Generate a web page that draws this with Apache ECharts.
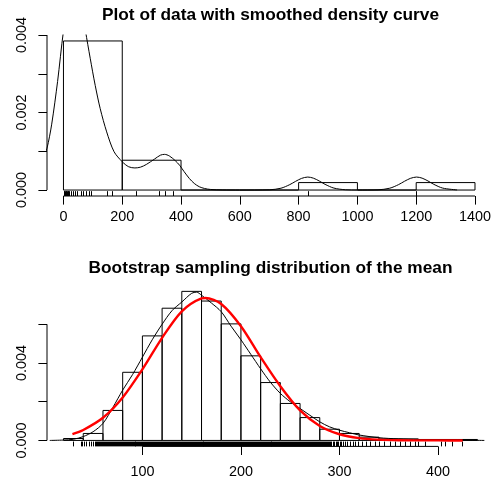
<!DOCTYPE html>
<html>
<head>
<meta charset="utf-8">
<script src="https://cdn.jsdelivr.net/npm/echarts@6/dist/echarts.min.js"></script>
<style>
  html, body { margin: 0; padding: 0; background: #fff; }
  #chart { width: 494px; height: 481px; }
</style>
</head>
<body>
<div id="chart"></div>
<script>
// ---- top panel: raw data histogram + kernel density ----
var topBreaks = [0, 200, 400, 600, 800, 1000, 1200, 1400];
var topDensity = [0.003846, 0.000769, 0, 0, 0.000192, 0, 0.000192];
var topRug = [1, 3, 5, 7, 9, 11, 14, 17, 20, 24, 33, 40, 47, 58, 65, 78, 86, 94,
  147, 166, 248, 324, 344, 372, 831, 1201];
var topKdeX = [-136, -110, -90, -70, -56, -40, -20, 0, 20, 40, 60, 75, 91, 108, 125, 147, 172,
  200, 222, 243, 262, 282, 310, 330, 344, 360, 380, 395, 410, 428, 445, 462, 480, 500, 540, 600,
  700, 740, 770, 790, 810, 831, 850, 870, 890, 920, 960, 1000,
  1070, 1110, 1140, 1160, 1180, 1201, 1220, 1240, 1260, 1290, 1339];
var topKdeY = [0.00005, 0.0002, 0.00045, 0.0008, 0.00108, 0.0017, 0.0028, 0.0041, 0.0050, 0.0052,
  0.0048, 0.0041, 0.0034, 0.0027, 0.0021, 0.0015, 0.00099,
  0.00073, 0.0006, 0.00057, 0.00059, 0.00066, 0.0008, 0.0009, 0.00092, 0.00088, 0.00076, 0.00064,
  0.00048, 0.0003, 0.00017, 0.000085, 0.00004, 0.000015, 0.000003, 0,
  0.000006, 0.000047, 0.00014, 0.000225, 0.0003, 0.000335, 0.000307, 0.000234, 0.000147, 0.00005,
  0.000007, 0.000001,
  0.000006, 0.000047, 0.00014, 0.000225, 0.0003, 0.000335, 0.000307, 0.000234, 0.000147, 0.00005,
  0.000003];
var topXTicks = [0, 200, 400, 600, 800, 1000, 1200, 1400];
var topYTicks = [0, 0.001, 0.002, 0.003, 0.004];
var topYLabels = [0, 0.002, 0.004];

// ---- bottom panel: bootstrap means ----
var botBreaks = [20, 40, 60, 80, 100, 120, 140, 160, 180, 200, 220, 240, 260, 280, 300, 320, 340,
  360, 380, 400, 420, 440];
var botDensity = [0.0001, 0.00036, 0.00155, 0.00352, 0.0054, 0.00683, 0.0077, 0.0072, 0.00602,
  0.00437, 0.00299, 0.00191, 0.00118, 0.00058, 0.00036, 0.00017, 0.00008, 0.00008, 0.00005,
  0.00005, 0.00005];
var botKdeX = [6, 20, 30, 40, 50, 60, 70, 80, 90, 100, 110, 120, 130, 140, 150, 155, 160, 170, 180,
  190, 200, 210, 220, 230, 240, 250, 260, 270, 280, 290, 300, 310, 320, 340, 360, 380, 400, 420,
  435, 447];
var botKdeY = [0, 0.00002, 0.00006, 0.0002, 0.00045, 0.00088, 0.0017, 0.0026, 0.0034, 0.0043,
  0.0052, 0.006, 0.0067, 0.00715, 0.0076, 0.00766, 0.0075, 0.0071, 0.00665, 0.0059, 0.0052,
  0.00445, 0.0037, 0.003, 0.00243, 0.002, 0.00165, 0.0013, 0.00096, 0.0007, 0.00053, 0.0004,
  0.00028, 0.00014, 0.00008, 0.00005, 0.00004, 0.00003, 0.00001, 0];
var botNormX = [29, 40, 60, 80, 100, 120, 140, 160, 164, 180, 200, 220, 240, 260, 280, 300, 320,
  340, 360, 380, 400, 425];
var botNormY = [0.00033, 0.00054, 0.00117, 0.00222, 0.00367, 0.0053, 0.00667, 0.00734, 0.00736,
  0.00705, 0.0059, 0.0043, 0.0028, 0.00155, 0.00075, 0.00032, 0.00012, 0.00004, 0.00001,
  0.000003, 0.000001, 0];
var botRug = [29.4, 37.2, 39, 40.6, 43, 45.4, 47.4, 49.7, 51.5,
  53, 54, 55, 56, 57, 58, 59, 60, 61, 62, 63, 64, 65, 66, 67, 68, 69, 70, 71, 72,
  73, 74, 75, 76, 77, 78, 79, 80, 81, 82, 83, 84, 85, 86, 87, 88, 89, 90, 91, 92,
  93, 94, 95, 96, 97, 98, 99, 100, 101, 102, 103, 104, 105, 106, 107, 108, 109, 110, 111, 112,
  113, 114, 115, 116, 117, 118, 119, 120, 121, 122, 123, 124, 125, 126, 127, 128, 129, 130, 131, 132,
  133, 134, 135, 136, 137, 138, 139, 140, 141, 142, 143, 144, 145, 146, 147, 148, 149, 150, 151, 152,
  153, 154, 155, 156, 157, 158, 159, 160, 161, 162, 163, 164, 165, 166, 167, 168, 169, 170, 171, 172,
  173, 174, 175, 176, 177, 178, 179, 180, 181, 182, 183, 184, 185, 186, 187, 188, 189, 190, 191, 192,
  193, 194, 195, 196, 197, 198, 199, 200, 201, 202, 203, 204, 205, 206, 207, 208, 209, 210, 211, 212,
  213, 214, 215, 216, 217, 218, 219, 220, 221, 222, 223, 224, 225, 226, 227, 228, 229, 230, 231, 232,
  233, 234, 235, 236, 237, 238, 239, 240, 241, 242, 243, 244, 245, 246, 247, 248, 249, 250, 251, 252,
  253, 254, 255, 256, 257, 258, 259, 260, 261, 262, 263, 264, 265, 266, 267, 268, 269, 270, 271, 272,
  273, 274, 275, 276, 277, 278, 279, 280, 281, 282, 283, 284, 285, 286, 287, 288, 289, 290,
  291.5, 293, 294, 296, 297.5, 299, 300.5, 302, 304, 305.7, 308, 310.8, 313.5, 315.9, 319.2,
  322.7, 327, 331, 336, 340.6, 345, 350.8, 355.9, 361, 366.7, 371.8, 376.9, 379.2, 386.4,
  403, 407.4, 414.2, 424.4];
var botXTicks = [100, 200, 300, 400];
var botYTicks = [0, 0.002, 0.004, 0.006];
var botYLabels = [0, 0.004];

// plot regions (R style: 4% padding around the data range)
var topX = [-56, 1456], topY = [-0.000154, 0.004];
var botX = [3.2, 456.8], botY = [-0.000308, 0.008008];

var FONT = 'Liberation Sans';

function zip(xs, ys) {
  return xs.map(function (x, i) { return [x, ys[i]]; });
}
function bins(breaks, dens) {
  return dens.map(function (d, i) { return [breaks[i], breaks[i + 1], d]; });
}

function histItem(params, api) {
  var p0 = api.coord([api.value(0), api.value(2)]);
  var p1 = api.coord([api.value(1), 0]);
  return {
    type: 'rect',
    shape: { x: p0[0], y: p0[1], width: p1[0] - p0[0], height: p1[1] - p0[1] },
    style: { fill: 'none', stroke: '#000', lineWidth: 1 }
  };
}

function rugItem(params, api) {
  var cs = params.coordSys;
  // snap to the pixel grid so dense ticks merge into a solid band like R's
  var x = Math.round(api.coord([api.value(0), 0])[0]) + 0.5;
  var yb = cs.y + cs.height;
  return {
    type: 'line',
    shape: { x1: x, y1: yb, x2: x, y2: yb - cs.height * 0.03 },
    style: { stroke: '#000', lineWidth: 1 }
  };
}

function xAxisOf(idx, range, ticks, margin) {
  return {
    type: 'value', gridIndex: idx, min: range[0], max: range[1],
    axisLine: { show: false, onZero: false },
    splitLine: { show: false },
    axisTick: { show: true, customValues: ticks, length: 8.6, lineStyle: { color: '#000', width: 1 } },
    axisLabel: {
      customValues: ticks, margin: margin, color: '#000', fontFamily: FONT, fontSize: 14.4,
      formatter: function (v) { return String(v); }
    }
  };
}
function yAxisOf(idx, range, ticks, labels) {
  return {
    type: 'value', gridIndex: idx, min: range[0], max: range[1],
    axisLine: { show: false, onZero: false },
    splitLine: { show: false },
    axisTick: { show: true, customValues: ticks, length: 8.6, lineStyle: { color: '#000', width: 1 } },
    axisLabel: {
      customValues: labels, rotate: 90, margin: 18, color: '#000', fontFamily: FONT, fontSize: 14.4,
      formatter: function (v) { return v.toFixed(3); }
    }
  };
}

// R draws its axis line only between the first and last tick
function axisLineSeries(idx, pts) {
  return {
    type: 'line', xAxisIndex: idx, yAxisIndex: idx, data: pts, clip: false, silent: true,
    symbol: 'none', lineStyle: { color: '#000', width: 1 }, z: 1
  };
}

var chart = echarts.init(document.getElementById('chart'), null, { renderer: 'canvas' });

chart.setOption({
  animation: false,
  backgroundColor: '#fff',
  title: [
    {
      text: 'Plot of data with smoothed density curve', left: 270.5, top: 7, padding: 0,
      textAlign: 'center',
      textStyle: { fontFamily: FONT, fontSize: 17.3, fontWeight: 'bold', color: '#000' }
    },
    {
      text: 'Bootstrap sampling distribution of the mean', left: 270.5, top: 260, padding: 0,
      textAlign: 'center',
      textStyle: { fontFamily: FONT, fontSize: 17.3, fontWeight: 'bold', color: '#000' }
    }
  ],
  grid: [
    { left: 47, top: 35, width: 447, height: 161 },
    { left: 47, top: 285.4, width: 447, height: 161 }
  ],
  xAxis: [xAxisOf(0, topX, topXTicks, 14), xAxisOf(1, botX, botXTicks, 19)],
  yAxis: [yAxisOf(0, topY, topYTicks, topYLabels), yAxisOf(1, botY, botYTicks, botYLabels)],
  series: [
    // top panel
    {
      type: 'custom', xAxisIndex: 0, yAxisIndex: 0, renderItem: histItem,
      data: bins(topBreaks, topDensity), encode: { x: [0, 1], y: 2 }, clip: false
    },
    {
      type: 'line', xAxisIndex: 0, yAxisIndex: 0, data: zip(topKdeX, topKdeY), smooth: 0.3,
      showSymbol: false, clip: true, lineStyle: { color: '#000', width: 1 }
    },
    {
      type: 'custom', xAxisIndex: 0, yAxisIndex: 0, renderItem: rugItem,
      data: topRug.map(function (v) { return [v, 0]; }), encode: { x: 0, y: 1 }, clip: false
    },
    axisLineSeries(0, [[topXTicks[0], topY[0]], [topXTicks[topXTicks.length - 1], topY[0]]]),
    axisLineSeries(0, [[topX[0], topYTicks[0]], [topX[0], topYTicks[topYTicks.length - 1]]]),
    // bottom panel
    {
      type: 'custom', xAxisIndex: 1, yAxisIndex: 1, renderItem: histItem,
      data: bins(botBreaks, botDensity), encode: { x: [0, 1], y: 2 }, clip: false
    },
    {
      type: 'line', xAxisIndex: 1, yAxisIndex: 1, data: zip(botKdeX, botKdeY), smooth: 0.3,
      showSymbol: false, clip: true, lineStyle: { color: '#000', width: 1 }
    },
    {
      type: 'line', xAxisIndex: 1, yAxisIndex: 1, data: zip(botNormX, botNormY), smooth: 0.3,
      showSymbol: false, clip: true, lineStyle: { color: '#ff0000', width: 2.4 }
    },
    {
      type: 'custom', xAxisIndex: 1, yAxisIndex: 1, renderItem: rugItem,
      data: botRug.map(function (v) { return [v, 0]; }), encode: { x: 0, y: 1 }, clip: false
    },
    axisLineSeries(1, [[botXTicks[0], botY[0]], [botXTicks[botXTicks.length - 1], botY[0]]]),
    axisLineSeries(1, [[botX[0], botYTicks[0]], [botX[0], botYTicks[botYTicks.length - 1]]])
  ]
});
</script>
</body>
</html>
